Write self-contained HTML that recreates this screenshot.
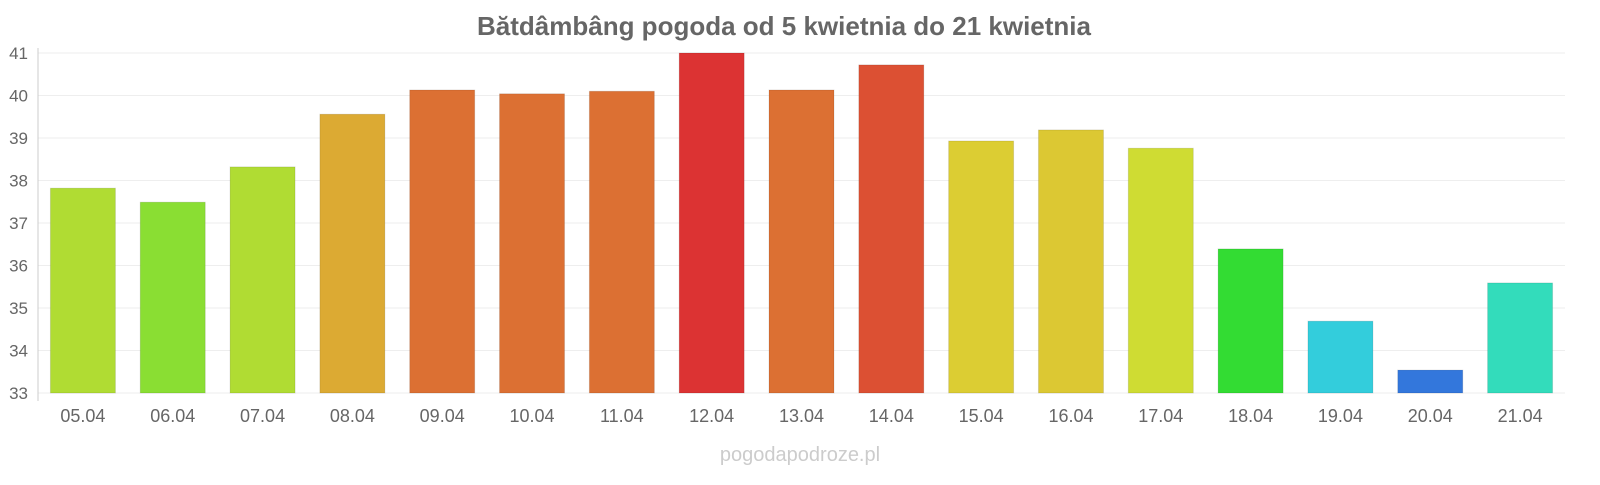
<!DOCTYPE html>
<html><head><meta charset="utf-8"><style>
body{margin:0;background:#fff;font-family:"Liberation Sans",sans-serif}
</style></head><body>
<svg id="chart" width="1600" height="480" xmlns="http://www.w3.org/2000/svg">
<text x="784" y="35" text-anchor="middle" font-size="26" font-weight="bold" fill="#666">Bătdâmbâng pogoda od 5 kwietnia do 21 kwietnia</text>
<text x="800" y="461" text-anchor="middle" font-size="20" fill="#ccc">pogodapodroze.pl</text>
<g id="grid"></g><g id="bars"></g><g id="ticks"></g>
</svg>
<script>
const categories=["05.04","06.04","07.04","08.04","09.04","10.04","11.04","12.04","13.04","14.04","15.04","16.04","17.04","18.04","19.04","20.04","21.04"];
const values=[37.82,37.49,38.32,39.56,40.13,40.04,40.1,41,40.13,40.72,38.93,39.19,38.76,36.39,34.69,33.54,35.59];
const colors=["#b0dc33","#8ade33","#b0dc33","#dcaa33","#dc7033","#dc7033","#dc7033","#dc3333","#dc7033","#dc5033","#dccd33","#dcc833","#cfdc33","#33dc33","#33cddc","#3377dc","#33dcbb"];
const yTicks=[33,34,35,36,37,38,39,40,41];
const NS="http://www.w3.org/2000/svg";
const x0=38,x1=1565,yMin=33,yMax=41,yTop=53,yBot=393;
const step=(x1-x0)/categories.length;
const y=v=>yBot-(v-yMin)/(yMax-yMin)*(yBot-yTop);
const xc=i=>x0+step*(i+0.5);
function mk(t,a,p){const e=document.createElementNS(NS,t);for(const k in a)e.setAttribute(k,a[k]);p.appendChild(e);return e;}
const grid=document.getElementById('grid'),bars=document.getElementById('bars'),ticks=document.getElementById('ticks');
yTicks.forEach(t=>{
 const l=mk('line',{x1:x0,x2:x1,y1:y(t),y2:y(t),stroke:'#eee','stroke-width':1},grid);
 
 
 const tx=mk('text',{x:28,y:y(t)+6,'text-anchor':'end','font-size':17,fill:'#666'},ticks);tx.textContent=t;
 
 
});
const ax=mk('line',{x1:x0,x2:x0,y1:yTop-5,y2:yBot+8,stroke:'#ccc'},grid);


categories.forEach((c,i)=>{
 const r=mk('rect',{x:xc(i)-32.5,y:y(values[i]),width:65,height:yBot-y(values[i]),fill:colors[i],stroke:'rgba(0,0,0,0.1)'},bars);
 
 
 const tx=mk('text',{x:xc(i),y:422,'text-anchor':'middle','font-size':18,fill:'#666'},ticks);tx.textContent=c;
 
 
});
</script>
</body></html>
